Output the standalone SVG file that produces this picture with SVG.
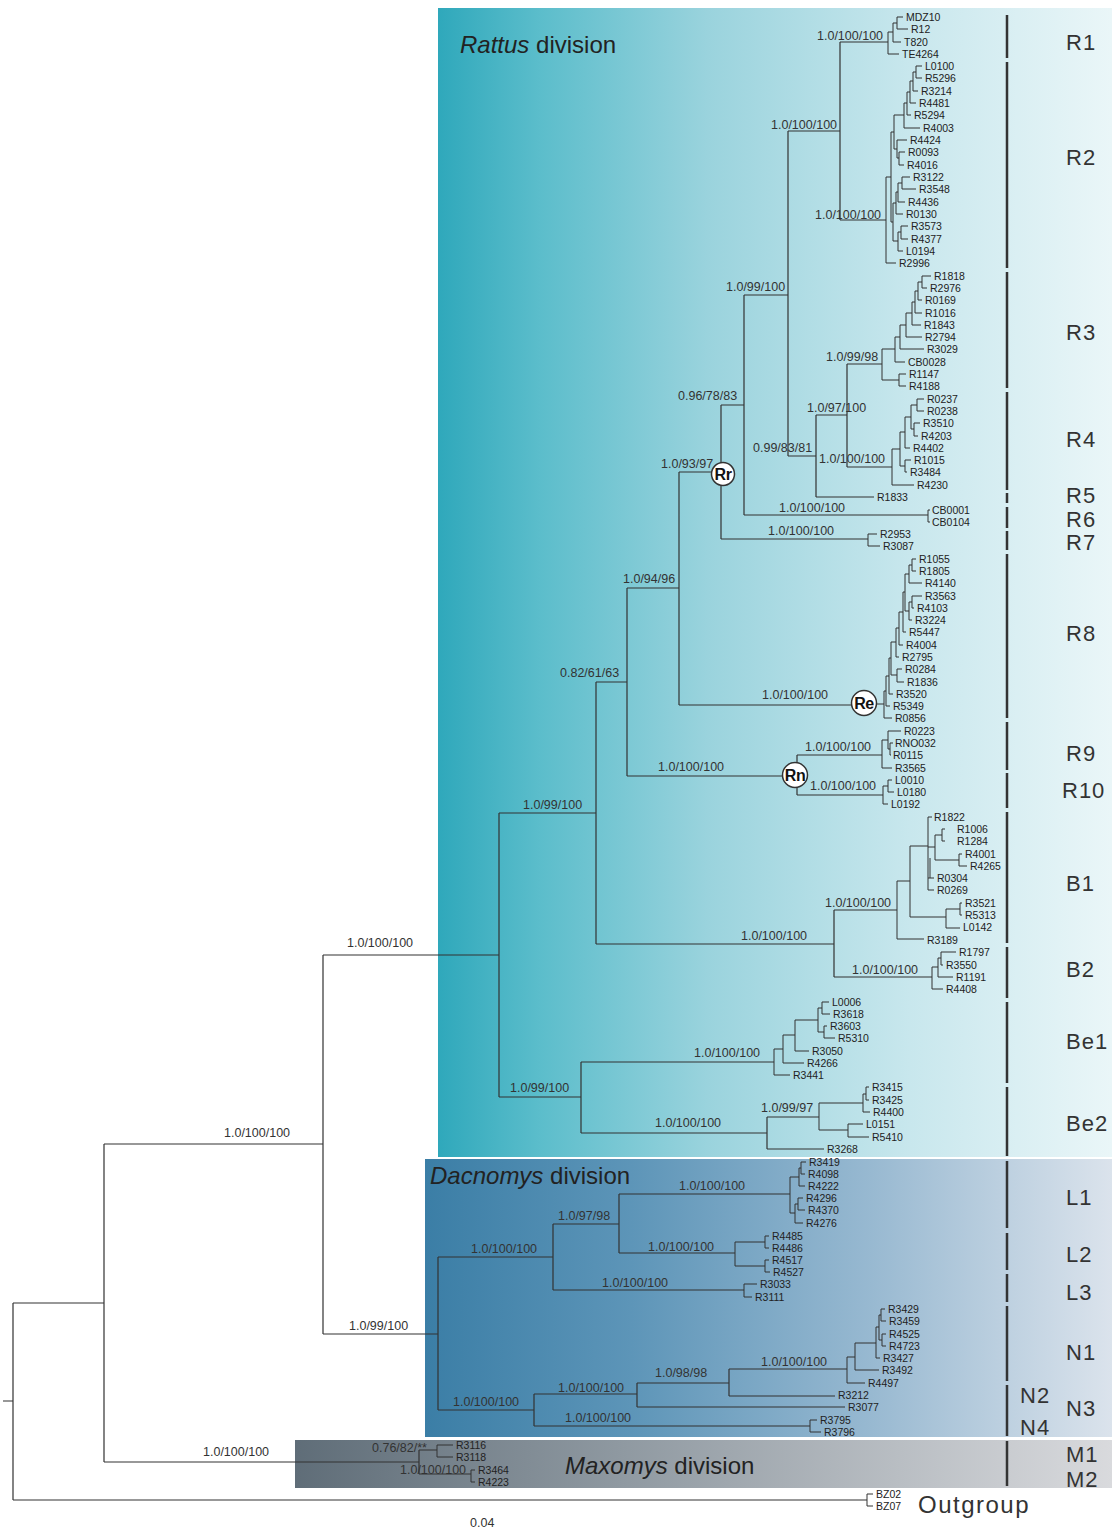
<svg xmlns="http://www.w3.org/2000/svg" width="1112" height="1528" viewBox="0 0 1112 1528">
<defs>
<linearGradient id="gR" x1="0" y1="0" x2="1" y2="0">
<stop offset="0" stop-color="#2fa8bb"/><stop offset="0.15" stop-color="#5bbdcb"/><stop offset="0.4" stop-color="#9ad3dd"/><stop offset="0.7" stop-color="#c8e7ed"/><stop offset="1" stop-color="#eaf6f8"/>
</linearGradient>
<linearGradient id="gD" x1="0" y1="0" x2="1" y2="0">
<stop offset="0" stop-color="#3b7ea6"/><stop offset="0.3" stop-color="#5d95b8"/><stop offset="0.65" stop-color="#98b9d1"/><stop offset="1" stop-color="#dbe3ec"/>
</linearGradient>
<linearGradient id="gM" x1="0" y1="0" x2="1" y2="0">
<stop offset="0" stop-color="#5f6d78"/><stop offset="0.4" stop-color="#8f99a1"/><stop offset="1" stop-color="#d9dadd"/>
</linearGradient>
<style>
.br{fill:none;stroke:#333;stroke-width:1.2}
.tp{fill:none;stroke:#333;stroke-width:1}
.bar{fill:none;stroke:#333;stroke-width:2.5}
.tip{font-family:"Liberation Sans",Arial,sans-serif;font-size:10.5px;fill:#222}
.sup{font-family:"Liberation Sans",Arial,sans-serif;font-size:12.5px;fill:#333}
.cl{font-family:"Liberation Sans",Arial,sans-serif;font-size:22px;fill:#333;letter-spacing:1px}
.div{font-family:"Liberation Sans",Arial,sans-serif;font-size:24px;fill:#222}
.circ{fill:#fff;stroke:#333;stroke-width:1.5}
.ct{font-family:"Liberation Sans",Arial,sans-serif;font-size:16px;font-weight:bold;fill:#111;text-anchor:middle;letter-spacing:-0.5px}
</style>
</defs>
<rect width="1112" height="1528" fill="#fff"/>
<g id="backgrounds">
<rect id="rattus-box" x="438" y="8" width="674" height="1149" fill="url(#gR)"/>
<rect id="dacnomys-box" x="425" y="1159" width="687" height="278" fill="url(#gD)"/>
<rect id="maxomys-box" x="295" y="1440" width="817" height="48" fill="url(#gM)"/>
</g>
<g id="titles">
<text class="div" x="460" y="53"><tspan font-style="italic">Rattus</tspan> division</text>
<text class="div" x="430" y="1184"><tspan font-style="italic">Dacnomys</tspan> division</text>
<text class="div" x="565" y="1474"><tspan font-style="italic">Maxomys</tspan> division</text>
</g>
<g id="connectors">
<path class="br" d="M3,1401H13M13,1303V1500M13,1500H867M13,1303H104M104,1144V1462M104,1462H419M104,1144H323M323,955V1334M323,955H499M323,1334H438M499,813V1097M499,813H596M499,1097H581M596,682V944M596,682H627M596,944H834M627,588V776M627,588H679M627,776H783M679,472V705M679,472H712M679,705H852M721,405V539M721,405H744M721,539H868M744,295V515M744,295H788M744,515H928M788,131V456M788,131H840M788,456H816M840,42V220M840,42H888M840,220H886M816,415V497M816,415H847M816,497H874M847,364V467M847,364H882M847,467H892M797,755V795M797,755H882M797,795H883M834,910V977M834,910H897M834,977H932M581,1062V1133M581,1062H774M581,1133H767M767,1117V1149M767,1117H819M767,1149H824M438,1257V1410M438,1257H553M438,1410H534M553,1224V1290M553,1224H619M553,1290H744M619,1194V1253M619,1194H790M619,1253H735M534,1394V1426M534,1394H637M534,1426H810M637,1383V1407M637,1383H729M637,1407H845M729,1369V1396M729,1369H847M729,1396H835M419,1450V1474M419,1450H437M419,1474H471"/>
<path class="tp" d="M888,32V54M888,54H899M888,32H893M893,23V42M893,42H901M893,23H897M897,17V29M897,17H903M897,29H908"/>
<path class="tp" d="M886,177V263M886,263H896M886,177H891M891,132V222M891,132H894M891,222H893M894,115V149M894,115H904M894,149H897M904,103V128M904,128H920M904,103H907M907,92V115M907,115H911M907,92H910M910,81V103M910,103H916M910,81H913M913,72V91M913,91H918M913,72H916M916,66V78M916,66H922M916,78H922M897,140V158M897,140H907M897,158H899M899,152V165M899,152H905M899,165H904M893,203V241M893,203H896M893,241H898M896,192V214M896,214H903M896,192H898M898,183V202M898,202H905M898,183H902M902,177V189M902,177H910M902,189H916M898,232V251M898,251H903M898,232H901M901,226V239M901,226H908M901,239H908"/>
<path class="tp" d="M882,349V380M882,349H895M882,380H899M895,337V362M895,362H905M895,337H900M900,325V349M900,349H924M900,325H906M906,313V337M906,337H922M906,313H912M912,302V325M912,325H921M912,302H915M915,291V313M915,313H922M915,291H918M918,282V300M918,300H922M918,282H922M922,276V288M922,276H931M922,288H927M899,374V386M899,374H906M899,386H906"/>
<path class="tp" d="M892,449V485M892,485H914M892,449H900M900,432V466M900,432H905M900,466H905M905,417V448M905,448H910M905,417H911M911,405V429M911,405H917M911,429H914M917,399V411M917,399H924M917,411H924M914,423V436M914,423H920M914,436H918M905,460V472M905,460H911M905,472H907"/>
<path class="tp" d="M928,510V522M928,510H930M928,522H930M868,534V546M868,534H877M868,546H880"/>
<path class="tp" d="M876,704H884M884,691V718M884,718H892M884,691H886M886,676V706M886,706H890M886,676H889M889,658V694M889,694H893M889,658H891M891,642V675M891,642H896M891,675H897M897,669V682M897,669H902M897,682H904M896,628V657M896,657H899M896,628H899M899,612V645M899,645H903M899,612H903M903,592V632M903,632H906M903,592H905M905,574V611M905,574H909M905,611H909M909,565V583M909,583H922M909,565H912M912,559V571M912,559H916M912,571H916M909,602V620M909,620H912M909,602H912M912,596V608M912,596H922M912,608H914"/>
<path class="tp" d="M882,740V768M882,768H892M882,740H888M888,731V749M888,731H901M888,749H890M890,743V755M890,743H893M890,755H891M883,786V804M883,804H888M883,786H888M888,780V792M888,780H892M888,792H894"/>
<path class="tp" d="M897,881V939M897,939H924M897,881H910M910,846V917M910,846H928M910,917H946M928,817V890M928,817H932M928,847H935M928,878H934M928,890H934M930,858V878M935,835V860M935,835H942M935,860H959M942,829V841M942,829H945M942,841H945M959,854V866M959,854H962M959,866H967M946,909V928M946,909H960M946,928H960M960,903V915M960,903H962M960,915H962"/>
<path class="tp" d="M932,967V989M932,989H943M932,967H938M938,958V977M938,977H953M938,958H941M941,952V965M941,952H956M941,965H943"/>
<path class="tp" d="M774,1049V1075M774,1075H790M774,1049H783M783,1035V1063M783,1063H804M783,1035H795M795,1020V1051M795,1051H809M795,1020H818M818,1008V1032M818,1008H822M818,1032H824M822,1002V1014M822,1002H829M822,1014H830M824,1026V1038M824,1026H827M824,1038H835"/>
<path class="tp" d="M819,1103V1130M819,1103H863M819,1130H848M863,1094V1112M863,1094H866M863,1112H870M866,1087V1100M866,1087H869M866,1100H869M848,1124V1137M848,1124H863M848,1137H869"/>
<path class="tp" d="M790,1177V1213M790,1177H799M790,1213H795M799,1168V1186M799,1168H801M799,1186H805M801,1162V1174M801,1162H806M801,1174H805M795,1204V1223M795,1204H798M795,1223H803M798,1198V1210M798,1198H803M798,1210H805"/>
<path class="tp" d="M735,1242V1266M735,1242H765M735,1266H765M765,1236V1248M765,1236H769M765,1248H769M765,1260V1272M765,1260H769M765,1272H770M744,1284V1297M744,1284H757M744,1297H752"/>
<path class="tp" d="M847,1357V1383M847,1383H865M847,1357H855M855,1343V1370M855,1370H879M855,1343H876M876,1327V1358M876,1358H880M876,1327H879M879,1315V1340M879,1315H881M879,1340H882M881,1309V1321M881,1309H885M881,1321H886M882,1334V1346M882,1334H886M882,1346H886M810,1420V1432M810,1420H817M810,1432H821"/>
<path class="tp" d="M437,1445V1457M437,1445H453M437,1457H453M471,1470V1482M471,1470H475M471,1482H475M867,1494V1506M867,1494H873M867,1506H873"/>
</g>
<g id="node-Rr"><circle class="circ" cx="723" cy="474" r="11.5"/><text class="ct" x="723" y="480">Rr</text></g>
<g id="node-Re"><circle class="circ" cx="864" cy="703" r="12.5"/><text class="ct" x="864" y="709">Re</text></g>
<g id="node-Rn"><circle class="circ" cx="795" cy="775" r="12.5"/><text class="ct" x="795" y="781">Rn</text></g>
<g id="supports">
<text class="sup" x="817" y="40">1.0/100/100</text>
<text class="sup" x="771" y="129">1.0/100/100</text>
<text class="sup" x="815" y="219">1.0/100/100</text>
<text class="sup" x="726" y="291">1.0/99/100</text>
<text class="sup" x="678" y="400">0.96/78/83</text>
<text class="sup" x="661" y="468">1.0/93/97</text>
<text class="sup" x="826" y="361">1.0/99/98</text>
<text class="sup" x="807" y="412">1.0/97/100</text>
<text class="sup" x="753" y="452">0.99/83/81</text>
<text class="sup" x="819" y="463">1.0/100/100</text>
<text class="sup" x="779" y="512">1.0/100/100</text>
<text class="sup" x="768" y="535">1.0/100/100</text>
<text class="sup" x="623" y="583">1.0/94/96</text>
<text class="sup" x="560" y="677">0.82/61/63</text>
<text class="sup" x="762" y="699">1.0/100/100</text>
<text class="sup" x="658" y="771">1.0/100/100</text>
<text class="sup" x="805" y="751">1.0/100/100</text>
<text class="sup" x="810" y="790">1.0/100/100</text>
<text class="sup" x="523" y="809">1.0/99/100</text>
<text class="sup" x="741" y="940">1.0/100/100</text>
<text class="sup" x="825" y="907">1.0/100/100</text>
<text class="sup" x="852" y="974">1.0/100/100</text>
<text class="sup" x="347" y="947">1.0/100/100</text>
<text class="sup" x="510" y="1092">1.0/99/100</text>
<text class="sup" x="694" y="1057">1.0/100/100</text>
<text class="sup" x="655" y="1127">1.0/100/100</text>
<text class="sup" x="761" y="1112">1.0/99/97</text>
<text class="sup" x="224" y="1137">1.0/100/100</text>
<text class="sup" x="349" y="1330">1.0/99/100</text>
<text class="sup" x="471" y="1253">1.0/100/100</text>
<text class="sup" x="558" y="1220">1.0/97/98</text>
<text class="sup" x="679" y="1190">1.0/100/100</text>
<text class="sup" x="648" y="1251">1.0/100/100</text>
<text class="sup" x="602" y="1287">1.0/100/100</text>
<text class="sup" x="453" y="1406">1.0/100/100</text>
<text class="sup" x="558" y="1392">1.0/100/100</text>
<text class="sup" x="655" y="1377">1.0/98/98</text>
<text class="sup" x="761" y="1366">1.0/100/100</text>
<text class="sup" x="565" y="1422">1.0/100/100</text>
<text class="sup" x="203" y="1456">1.0/100/100</text>
<text class="sup" x="372" y="1452">0.76/82/**</text>
<text class="sup" x="400" y="1474">1.0/100/100</text>
<text class="sup" x="470" y="1527">0.04</text>
</g>
<g id="tips">
<text class="tip" x="906" y="21">MDZ10</text><text class="tip" x="911" y="33">R12</text><text class="tip" x="904" y="46">T820</text><text class="tip" x="902" y="58">TE4264</text>
<text class="tip" x="925" y="70">L0100</text><text class="tip" x="925" y="82">R5296</text><text class="tip" x="921" y="95">R3214</text><text class="tip" x="919" y="107">R4481</text><text class="tip" x="914" y="119">R5294</text><text class="tip" x="923" y="132">R4003</text><text class="tip" x="910" y="144">R4424</text><text class="tip" x="908" y="156">R0093</text><text class="tip" x="907" y="169">R4016</text><text class="tip" x="913" y="181">R3122</text><text class="tip" x="919" y="193">R3548</text><text class="tip" x="908" y="206">R4436</text><text class="tip" x="906" y="218">R0130</text><text class="tip" x="911" y="230">R3573</text><text class="tip" x="911" y="243">R4377</text><text class="tip" x="906" y="255">L0194</text><text class="tip" x="899" y="267">R2996</text>
<text class="tip" x="934" y="280">R1818</text><text class="tip" x="930" y="292">R2976</text><text class="tip" x="925" y="304">R0169</text><text class="tip" x="925" y="317">R1016</text><text class="tip" x="924" y="329">R1843</text><text class="tip" x="925" y="341">R2794</text><text class="tip" x="927" y="353">R3029</text><text class="tip" x="908" y="366">CB0028</text><text class="tip" x="909" y="378">R1147</text><text class="tip" x="909" y="390">R4188</text>
<text class="tip" x="927" y="403">R0237</text><text class="tip" x="927" y="415">R0238</text><text class="tip" x="923" y="427">R3510</text><text class="tip" x="921" y="440">R4203</text><text class="tip" x="913" y="452">R4402</text><text class="tip" x="914" y="464">R1015</text><text class="tip" x="910" y="476">R3484</text><text class="tip" x="917" y="489">R4230</text>
<text class="tip" x="877" y="501">R1833</text><text class="tip" x="932" y="514">CB0001</text><text class="tip" x="932" y="526">CB0104</text><text class="tip" x="880" y="538">R2953</text><text class="tip" x="883" y="550">R3087</text>
<text class="tip" x="919" y="563">R1055</text><text class="tip" x="919" y="575">R1805</text><text class="tip" x="925" y="587">R4140</text><text class="tip" x="925" y="600">R3563</text><text class="tip" x="917" y="612">R4103</text><text class="tip" x="915" y="624">R3224</text><text class="tip" x="909" y="636">R5447</text><text class="tip" x="906" y="649">R4004</text><text class="tip" x="902" y="661">R2795</text><text class="tip" x="905" y="673">R0284</text><text class="tip" x="907" y="686">R1836</text><text class="tip" x="896" y="698">R3520</text><text class="tip" x="893" y="710">R5349</text><text class="tip" x="895" y="722">R0856</text>
<text class="tip" x="904" y="735">R0223</text><text class="tip" x="895" y="747">RNO032</text><text class="tip" x="893" y="759">R0115</text><text class="tip" x="895" y="772">R3565</text><text class="tip" x="895" y="784">L0010</text><text class="tip" x="897" y="796">L0180</text><text class="tip" x="891" y="808">L0192</text>
<text class="tip" x="934" y="821">R1822</text><text class="tip" x="957" y="833">R1006</text><text class="tip" x="957" y="845">R1284</text><text class="tip" x="965" y="858">R4001</text><text class="tip" x="970" y="870">R4265</text><text class="tip" x="937" y="882">R0304</text><text class="tip" x="937" y="894">R0269</text><text class="tip" x="965" y="907">R3521</text><text class="tip" x="965" y="919">R5313</text><text class="tip" x="963" y="931">L0142</text><text class="tip" x="927" y="944">R3189</text>
<text class="tip" x="959" y="956">R1797</text><text class="tip" x="946" y="969">R3550</text><text class="tip" x="956" y="981">R1191</text><text class="tip" x="946" y="993">R4408</text>
<text class="tip" x="832" y="1006">L0006</text><text class="tip" x="833" y="1018">R3618</text><text class="tip" x="830" y="1030">R3603</text><text class="tip" x="838" y="1042">R5310</text><text class="tip" x="812" y="1055">R3050</text><text class="tip" x="807" y="1067">R4266</text><text class="tip" x="793" y="1079">R3441</text>
<text class="tip" x="872" y="1091">R3415</text><text class="tip" x="872" y="1104">R3425</text><text class="tip" x="873" y="1116">R4400</text><text class="tip" x="866" y="1128">L0151</text><text class="tip" x="872" y="1141">R5410</text><text class="tip" x="827" y="1153">R3268</text>
<text class="tip" x="809" y="1166">R3419</text><text class="tip" x="808" y="1178">R4098</text><text class="tip" x="808" y="1190">R4222</text><text class="tip" x="806" y="1202">R4296</text><text class="tip" x="808" y="1214">R4370</text><text class="tip" x="806" y="1227">R4276</text>
<text class="tip" x="772" y="1240">R4485</text><text class="tip" x="772" y="1252">R4486</text><text class="tip" x="772" y="1264">R4517</text><text class="tip" x="773" y="1276">R4527</text><text class="tip" x="760" y="1288">R3033</text><text class="tip" x="755" y="1301">R3111</text>
<text class="tip" x="888" y="1313">R3429</text><text class="tip" x="889" y="1325">R3459</text><text class="tip" x="889" y="1338">R4525</text><text class="tip" x="889" y="1350">R4723</text><text class="tip" x="883" y="1362">R3427</text><text class="tip" x="882" y="1374">R3492</text><text class="tip" x="868" y="1387">R4497</text><text class="tip" x="838" y="1399">R3212</text><text class="tip" x="848" y="1411">R3077</text><text class="tip" x="820" y="1424">R3795</text><text class="tip" x="824" y="1436">R3796</text>
<text class="tip" x="456" y="1449">R3116</text><text class="tip" x="456" y="1461">R3118</text><text class="tip" x="478" y="1474">R3464</text><text class="tip" x="478" y="1486">R4223</text>
<text class="tip" x="876" y="1498">BZ02</text><text class="tip" x="876" y="1510">BZ07</text>
</g>
<g id="clade-bars">
<path class="bar" d="M1007,15V58M1007,62V268M1007,272V388M1007,392V490M1007,493V503M1007,507V528M1007,531V550M1007,554V718M1007,722V770M1007,773V808M1007,812V943M1007,947V998M1007,1002V1083M1007,1087V1156M1007,1161V1228M1007,1233V1270M1007,1274V1302M1007,1306V1381M1007,1385V1436M1007,1441V1486"/>
</g>
<g id="clade-labels">
<text class="cl" x="1066" y="50">R1</text><text class="cl" x="1066" y="165">R2</text><text class="cl" x="1066" y="340">R3</text><text class="cl" x="1066" y="447">R4</text><text class="cl" x="1066" y="503">R5</text><text class="cl" x="1066" y="527">R6</text><text class="cl" x="1066" y="550">R7</text><text class="cl" x="1066" y="641">R8</text><text class="cl" x="1066" y="761">R9</text><text class="cl" x="1062" y="798">R10</text><text class="cl" x="1066" y="891">B1</text><text class="cl" x="1066" y="977">B2</text><text class="cl" x="1066" y="1049">Be1</text><text class="cl" x="1066" y="1131">Be2</text><text class="cl" x="1066" y="1205">L1</text><text class="cl" x="1066" y="1262">L2</text><text class="cl" x="1066" y="1300">L3</text><text class="cl" x="1066" y="1360">N1</text><text class="cl" x="1066" y="1416">N3</text><text class="cl" x="1020" y="1403">N2</text><text class="cl" x="1020" y="1435">N4</text><text class="cl" x="1066" y="1462">M1</text><text class="cl" x="1066" y="1487">M2</text><text class="cl" x="918" y="1513" style="font-size:24px;letter-spacing:1.5px">Outgroup</text>
</g>
</svg>
